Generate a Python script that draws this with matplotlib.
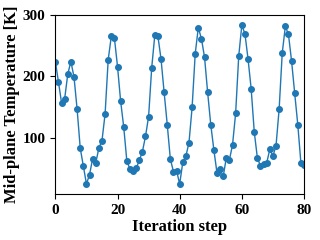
import matplotlib
matplotlib.use('Agg')
import matplotlib.pyplot as plt

# Temperatura del plano medio por paso de iteracion
steps = list(range(81))
temperature = [224, 191, 157, 164, 204, 224, 199, 147, 84, 55,
               26, 41, 67, 60, 84, 96, 139, 227, 265, 262,
               216, 160, 118, 63, 50, 47, 51, 64, 78, 103,
               135, 214, 267, 265, 228, 174, 122, 66, 46, 47,
               26, 61, 71, 93, 150, 237, 279, 261, 231, 174,
               122, 81, 44, 50, 38, 68, 65, 89, 140, 233,
               283, 269, 228, 180, 110, 68, 55, 58, 60, 82,
               71, 88, 147, 238, 281, 268, 225, 173, 122, 60,
               57]

plt.rcParams['font.family'] = ['Liberation Serif', 'DejaVu Serif']
plt.rcParams['font.weight'] = 'bold'

fig = plt.figure(figsize=(3.2, 2.4), dpi=100)
ax = fig.add_axes([0.173, 0.19, 0.777, 0.749])
ax.plot(steps, temperature, marker='o', markersize=4, linewidth=1, color='#1f77b4')

ax.set_xlim(0, 80)
ax.set_ylim(9, 300)
ax.set_xticks([0, 20, 40, 60, 80])
ax.set_yticks([100, 200, 300])
ax.tick_params(labelsize=11)
for lbl in ax.get_xticklabels() + ax.get_yticklabels():
    lbl.set_fontweight('bold')

ax.set_xlabel('Iteration step', fontsize=12, fontweight='bold', labelpad=1)
ax.set_ylabel('Mid-plane Temperature [K]', fontsize=12, fontweight='bold', labelpad=2)

fig.savefig('out.png', dpi=100)
